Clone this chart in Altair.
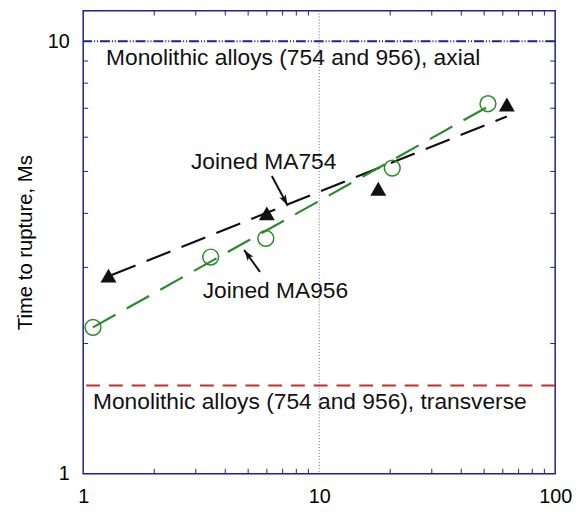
import altair as alt
import pandas as pd

# ---- data ----
ma754_x = [1.28, 6.0, 17.8, 62.4]
ma754_y = [2.87, 4.0, 4.56, 7.14]
ma956_x = [1.10, 3.47, 5.94, 20.4, 51.9]
ma956_y = [2.18, 3.17, 3.50, 5.09, 7.17]

fit754_x = [1.32, 62.4]
fit754_y = [2.88, 6.70]
fit956_x = [1.10, 51.9]
fit956_y = [2.18, 7.06]

axial_level = [10]
transverse_level = [1.6]

x_ticks = [1, 10, 100]
y_ticks = [1, 10]
x_minor = [2, 3, 4, 5, 6, 7, 8, 9, 20, 30, 40, 50, 60, 70, 80, 90]
y_minor = [2, 3, 4, 5, 6, 7, 8, 9]
x_grid = [10]

label_text = ["Monolithic alloys (754 and 956), axial",
              "Monolithic alloys (754 and 956), transverse",
              "Joined MA754", "Joined MA956"]
label_x = [1.25, 1.10, 2.86, 3.21]
label_y = [8.81, 1.408, 5.07, 2.55]

arrow_x = [6.30, 5.61]
arrow_y = [4.88, 2.93]
arrow_x2 = [7.35, 4.81]
arrow_y2 = [4.17, 3.29]
arrow_angle = [152, 324]

# ---- style ----
NAVY = "#1f1f96"
RED = "#c62f2a"
GREEN = "#2b8a2b"
BLACK = "#111111"
FONT = "Liberation Sans"
W, H = 477, 468

xs = alt.Scale(type="log", domain=[1, 100], nice=False)
ys = alt.Scale(type="log", domain=[1, 11.77], nice=False)

ax_x = alt.Axis(values=x_ticks, format="~g", title=None, tickSize=0,
                domain=False, grid=False, labelPadding=13,
                labelFontSize=20, labelFont=FONT, labelColor="black",
                labelFlush=False)
ax_y = alt.Axis(values=y_ticks, format="~g", title="Time to rupture, Ms",
                tickSize=0, domain=False, grid=False, labelPadding=14,
                labelFontSize=20, labelFont=FONT, labelColor="black",
                titleFontSize=20.5, titleFont=FONT, titleFontWeight="normal",
                titleColor="black", titlePadding=12, labelFlush=False)


def X(f="x"):
    return alt.X(f"{f}:Q", scale=xs, axis=ax_x)


def Y(f="y"):
    return alt.Y(f"{f}:Q", scale=ys, axis=ax_y)


ym_df = pd.DataFrame({"y": y_minor})
xm_df = pd.DataFrame({"x": x_minor})

tick_left = alt.Chart(ym_df).mark_rule(color=NAVY, strokeWidth=1).encode(
    y=Y(), x=alt.value(0), x2=alt.value(5))
tick_right = alt.Chart(ym_df).mark_rule(color=NAVY, strokeWidth=1).encode(
    y=Y(), x=alt.value(W), x2=alt.value(W - 5))
tick_bottom = alt.Chart(xm_df).mark_rule(color=NAVY, strokeWidth=1).encode(
    x=X(), y=alt.value(H), y2=alt.value(H - 5))
tick_top = alt.Chart(xm_df).mark_rule(color=NAVY, strokeWidth=1).encode(
    x=X(), y=alt.value(0), y2=alt.value(5))

grid = alt.Chart(pd.DataFrame({"x": x_grid})).mark_rule(
    color="#5a5aa8", strokeWidth=1, strokeDash=[1, 2]).encode(x=X())

axial = alt.Chart(pd.DataFrame({"y": axial_level})).mark_rule(
    color=NAVY, strokeWidth=2, strokeDash=[10, 2, 1, 2, 1, 2]).encode(y=Y())
transverse = alt.Chart(pd.DataFrame({"y": transverse_level})).mark_rule(
    color=RED, strokeWidth=2, strokeDash=[14, 9]).encode(y=Y())

fit754 = alt.Chart(pd.DataFrame({"x": fit754_x, "y": fit754_y})).mark_line(
    color=BLACK, strokeWidth=2.2, strokeDash=[26, 12]).encode(x=X(), y=Y())
fit956 = alt.Chart(pd.DataFrame({"x": fit956_x, "y": fit956_y})).mark_line(
    color=GREEN, strokeWidth=2.2, strokeDash=[26, 13]).encode(x=X(), y=Y())

pts754 = alt.Chart(pd.DataFrame({"x": ma754_x, "y": ma754_y})).mark_point(
    shape="triangle-up", filled=True, color=BLACK, size=260, opacity=1).encode(
    x=X(), y=Y())
pts956 = alt.Chart(pd.DataFrame({"x": ma956_x, "y": ma956_y})).mark_point(
    shape="circle", filled=False, color=GREEN, size=256, strokeWidth=1.5,
    opacity=1).encode(x=X(), y=Y())

labels = alt.Chart(pd.DataFrame({"x": label_x, "y": label_y, "t": label_text})).mark_text(
    align="left", baseline="alphabetic", font=FONT, fontSize=23, color=BLACK).encode(
    x=X(), y=Y(), text="t:N")

arr_df = pd.DataFrame({"x": arrow_x, "y": arrow_y, "x2": arrow_x2, "y2": arrow_y2,
                       "a": arrow_angle})
shafts = alt.Chart(arr_df).mark_rule(color=BLACK, strokeWidth=2).encode(
    x=X(), y=Y(), x2="x2:Q", y2="y2:Q")
heads = alt.Chart(arr_df).mark_point(
    shape="M0,0 L0.42,1.3 L0,1.0 L-0.42,1.3 Z", filled=True, color=BLACK,
    size=290, opacity=1).encode(
    x=X("x2"), y=Y("y2"), angle=alt.Angle("a:Q", scale=None))

chart = alt.layer(
    grid, tick_left, tick_right, tick_bottom, tick_top,
    axial, transverse, fit754, fit956, pts754, pts956, labels, shafts, heads
).properties(
    width=W, height=H,
    autosize=alt.AutoSizeParams(type="none"),
    padding={"left": 76, "top": 0, "right": 17, "bottom": 36},
).configure_view(stroke=NAVY, strokeWidth=1.5)

chart.save("out.html", embed_options={"renderer": "svg", "actions": False})
